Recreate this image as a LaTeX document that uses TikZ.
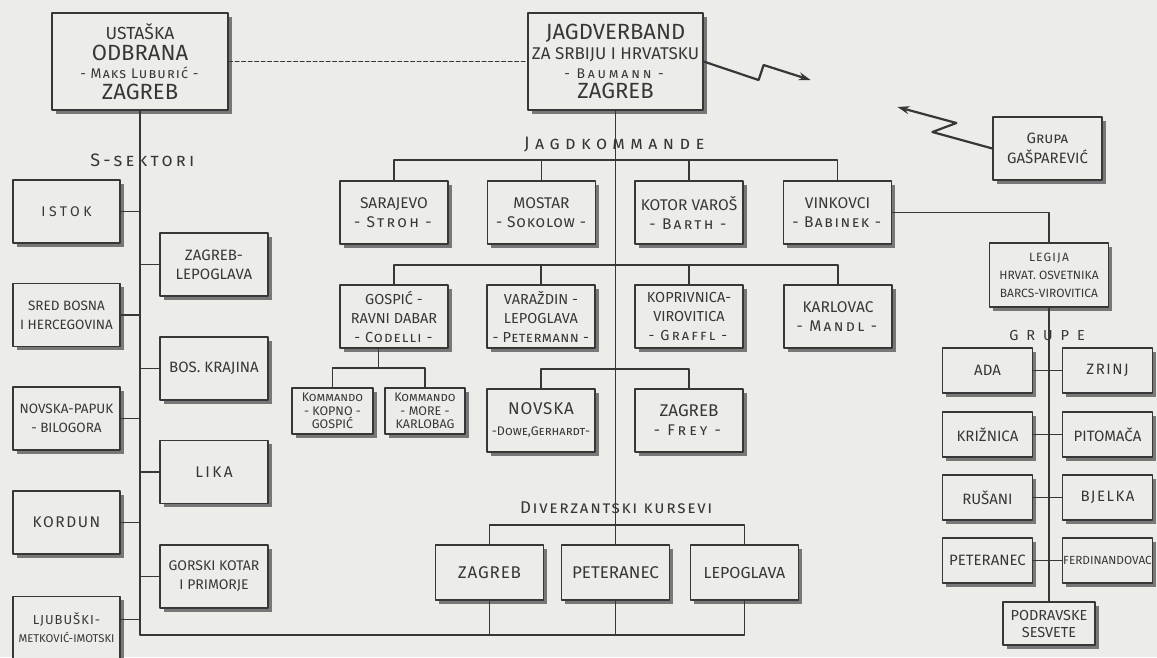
\documentclass[tikz,border=0pt]{standalone}
\usepackage{fontspec}
\setmainfont{Fira Sans}
\usepackage{tikz}
\usetikzlibrary{calc,shadows,arrows.meta}

\definecolor{paper}{RGB}{236,236,233}
\definecolor{ink}{RGB}{55,55,55}
\definecolor{shade}{RGB}{120,120,120}

\newcommand\fT{\fontsize{22}{23}\selectfont}
\newcommand\fL{\fontsize{15}{18}\selectfont}
\newcommand\fN{\fontsize{15.5}{19}\selectfont}
\newcommand\fS{\fontsize{14}{16}\selectfont}
\newcommand\spc[2]{{\addfontfeature{LetterSpace=#1}#2}}

\begin{document}
\begin{tikzpicture}[x=1pt, y=-1pt, line cap=round, line join=round, ink, line width=1.2pt,
    box/.style={draw=ink, fill=paper, text=ink, align=center, inner sep=1pt,
      minimum width=108, minimum height=63, font=\fN,
      drop shadow={shadow xshift=3.5pt, shadow yshift=-3.5pt, fill=shade, opacity=1}},
    gbox/.style={box, minimum width=90, minimum height=45, font=\fL},
    lbl/.style={text=ink, inner sep=0pt},
    bolt/.style={-{Stealth[length=12pt, width=8pt]}, line width=2.2pt}]
    \fill[paper] (0,0) rectangle (1157,657);
    \useasboundingbox (0,0) rectangle (1157,657);

    % --- headquarters ---
    \node[box, minimum width=176, minimum height=97, font=\fontsize{17.5}{21}\selectfont] (ustasa) at (140,61.5)
      {USTAŠKA\\{\fT ODBRANA}\\[-3pt]{\fS\spc{8}{\textsc{- Maks Luburić -}}}\\{\fT ZAGREB}};
    \node[box, minimum width=175, minimum height=97, font=\fontsize{17}{19.5}\selectfont] (jagd) at (615.5,61.5)
      {{\fT JAGDVERBAND}\\ZA SRBIJU I HRVATSKU\\{\fS\spc{20}{\textsc{- Baumann -}}}\\{\fT ZAGREB}};
    \node[box, minimum width=109, font=\fontsize{15}{20}\selectfont] (gasp) at (1047.5,148.5) {\textsc{Grupa}\\GAŠPAREVIĆ};

    \draw[dashed, dash pattern=on 4pt off 2.5pt, line width=1pt] (ustasa.east) -- (jagd.west);
    \draw[bolt] (jagd.east) -- ++(55,18.5) -- ++(5,-15) -- ++(47,15);
    \draw[bolt] (gasp.west) -- ++(-60,-16.5) -- ++(24,-9) -- ++(-59,-16);

    % --- S-sektori ---
    \node[lbl, font=\fontsize{18}{20}\selectfont\addfontfeature{LetterSpace=18}] (sslbl) at (144,160) {\textsc{S-sektori}};
    \coordinate (strunk) at (140,635);
    \node[box, minimum width=107, font=\fontsize{14}{18}\selectfont] (istok) at (66.5,211.5) {\spc{25}{ISTOK}};
    \node[box, minimum width=107, font=\fontsize{13.5}{19}\selectfont] (sred) at (66.5,315) {SRED BOSNA\\I HERCEGOVINA};
    \node[box, minimum width=107, font=\fontsize{13.5}{19}\selectfont] (papuk) at (66.5,418.5) {NOVSKA-PAPUK\\- BILOGORA};
    \node[box, minimum width=107] (kordun) at (66.5,522.5) {\spc{10}{KORDUN}};
    \node[box, minimum width=107, font=\fontsize{11.3}{18}\selectfont] (ljub) at (66.5,628)
      {{\fontsize{13}{15}\selectfont\spc{8}{LJUBUŠKI-}}\\METKOVIĆ-IMOTSKI};
    \node[box, font=\fontsize{15}{19}\selectfont] (zaglep) at (214,264.5) {ZAGREB-\\LEPOGLAVA};
    \node[box, font=\fontsize{15}{19}\selectfont] (boskra) at (214,368.5) {BOS. KRAJINA};
    \node[box] (lika)   at (214,472)   {\spc{15}{LIKA}};
    \node[box, font=\fontsize{14}{19}\selectfont] (gorski) at (214,576.5) {GORSKI KOTAR\\I PRIMORJE};

    \draw (ustasa.south) -- (strunk);
    \foreach \n in {istok,sred,papuk,kordun}{
      \draw (\n.east) -- (\n.east -| strunk);
    }
    \draw ([yshift=8.5pt]ljub.east) -- ([yshift=8.5pt]ljub.east -| strunk);
    \foreach \n in {zaglep,boskra,lika,gorski}{
      \draw (\n.west) -- (\n.west -| strunk);
    }

    % --- Jagdkommande ---
    \node[lbl, font=\fontsize{18}{20}\selectfont\addfontfeature{LetterSpace=30}] (jklbl) at (617,145) {\textsc{Jagdkommande}};
    \node[box] (sarajevo) at (394,212.5)   {SARAJEVO\\\spc{15}{\textsc{- Stroh -}}};
    \node[box] (mostar)   at (541.5,212.5) {MOSTAR\\\spc{5}{\textsc{- Sokolow -}}};
    \node[box] (kotor)    at (689,212.5)   {KOTOR VAROŠ\\\spc{15}{\textsc{- Barth -}}};
    \node[box] (vinkovci) at (837.5,212.5) {VINKOVCI\\\spc{10}{\textsc{- Babinek -}}};
    \coordinate (jkbus) at (615.5,160);
    \draw (sarajevo.north) |- (jkbus) -| (vinkovci.north);
    \foreach \n in {mostar,kotor}{
      \draw (\n.north) -- (\n.north |- jkbus);
    }

    \node[box, font=\fontsize{14.5}{19}\selectfont] (gospic)     at (394,316.5) {GOSPIĆ -\\RAVNI DABAR\\\spc{8}{\textsc{- Codelli -}}};
    \node[box, font=\fontsize{14.5}{19}\selectfont] (varazdin)   at (541,316.5) {VARAŽDIN -\\LEPOGLAVA\\\spc{3}{\textsc{- Petermann -}}};
    \node[box, font=\fontsize{14.5}{19}\selectfont] (koprivnica) at (689,316.5) {KOPRIVNICA-\\VIROVITICA\\\spc{15}{\textsc{- Graffl -}}};
    \node[box] (karlovac)   at (838,316.5) {KARLOVAC\\\spc{15}{\textsc{- Mandl -}}};
    \coordinate (r2bus) at (615.5,265);
    \draw (gospic.north) |- (r2bus) -| (karlovac.north);
    \foreach \n in {varazdin,koprivnica}{
      \draw (\n.north) -- (\n.north |- r2bus);
    }

    % kommando under Gospic
    \node[box, minimum width=81, minimum height=46, font=\fontsize{12.5}{13.5}\selectfont] (kopno) at (332.5,411) {\textsc{Kommando}\\- KOPNO -\\GOSPIĆ};
    \node[box, minimum width=80, minimum height=46, font=\fontsize{12.5}{13.5}\selectfont] (more)  at (425,411)   {\textsc{Kommando}\\- MORE -\\KARLOBAG};
    \coordinate (kbus) at (378.5,368);
    \draw (gospic.south -| kbus) -- (kbus);
    \draw (kopno.north) |- (kbus) -| (more.north);

    \node[box] (novska)  at (541,420.5) {\fontsize{17}{19}\selectfont\spc{5}{NOVSKA}\\[2pt]\fontsize{12.5}{14}\selectfont\textsc{-Dowe,Gerhardt-}};
    \node[box] (zagfrey) at (689,420.5) {\fontsize{17}{19}\selectfont ZAGREB\\\spc{20}{\textsc{- Frey -}}};
    \coordinate (r3bus) at (615.5,369);
    \draw (novska.north) |- (r3bus) -| (zagfrey.north);

    % --- Diverzantski kursevi ---
    \node[lbl, font=\fontsize{17}{20}\selectfont\addfontfeature{LetterSpace=10}] (dklbl) at (617,508) {\textsc{Diverzantski kursevi}};
    \node[box, minimum height=55, font=\fontsize{17}{19}\selectfont] (kzagreb) at (489.5,572.5) {\spc{5}{ZAGREB}};
    \node[box, minimum height=55, font=\fontsize{17}{19}\selectfont] (kpeter)  at (615.5,572.5) {PETERANEC};
    \node[box, minimum height=55, font=\fontsize{16}{19}\selectfont] (klepo)   at (744.5,572.5) {LEPOGLAVA};
    \coordinate (dbus) at (615.5,525);
    \draw (jagd.south) -- (kpeter.north);
    \draw (kzagreb.north) |- (dbus) -| (klepo.north);
    \draw (kzagreb.south) -- (kzagreb.south |- strunk);
    \draw (kpeter.south) -- (kpeter.south |- strunk);
    \draw (strunk) -| (klepo.south);

    % --- Legija and grupe ---
    \node[box, minimum width=119, minimum height=64, font=\fontsize{12}{18}\selectfont] (legija) at (1049,275)
      {{\fontsize{12}{13}\selectfont\spc{10}{LEGIJA}}\\HRVAT. OSVETNIKA\\BARCS-VIROVITICA};
    \draw (vinkovci.east) -| (legija.north);
    \node[lbl, font=\fontsize{14.5}{16}\selectfont\addfontfeature{LetterSpace=55}] (grlbl) at (1047,335) {GRUPE};

    \foreach \n/\t/\y in {ada/ADA/370.5, kriznica/KRIŽNICA/434.5, rusani/RUŠANI/497.5, gpeter/PETERANEC/560.5}{
      \node[gbox] (\n) at (987.5,\y) {\t};
    }
    \foreach \n/\t/\y in {zrinj/\spc{10}{ZRINJ}/370.5, pitomaca/PITOMAČA/434.5, bjelka/\spc{10}{BJELKA}/497.5}{
      \node[gbox] (\n) at (1107.5,\y) {\t};
    }
    \node[gbox, font=\fontsize{11.8}{13}\selectfont, inner sep=0pt] (ferdin) at (1107.5,560.5) {FERDINANDOVAC};
    \node[box, minimum width=92, minimum height=43, font=\fontsize{14.5}{17}\selectfont] (podravske) at (1049,623.5) {PODRAVSKE\\SESVETE};

    \draw (legija.south) -- (podravske.north);
    \foreach \l/\r in {ada/zrinj, kriznica/pitomaca, rusani/bjelka, gpeter/ferdin}{
      \draw (\l.east) -- (\r.west);
    }
  \end{tikzpicture}
\end{document}
